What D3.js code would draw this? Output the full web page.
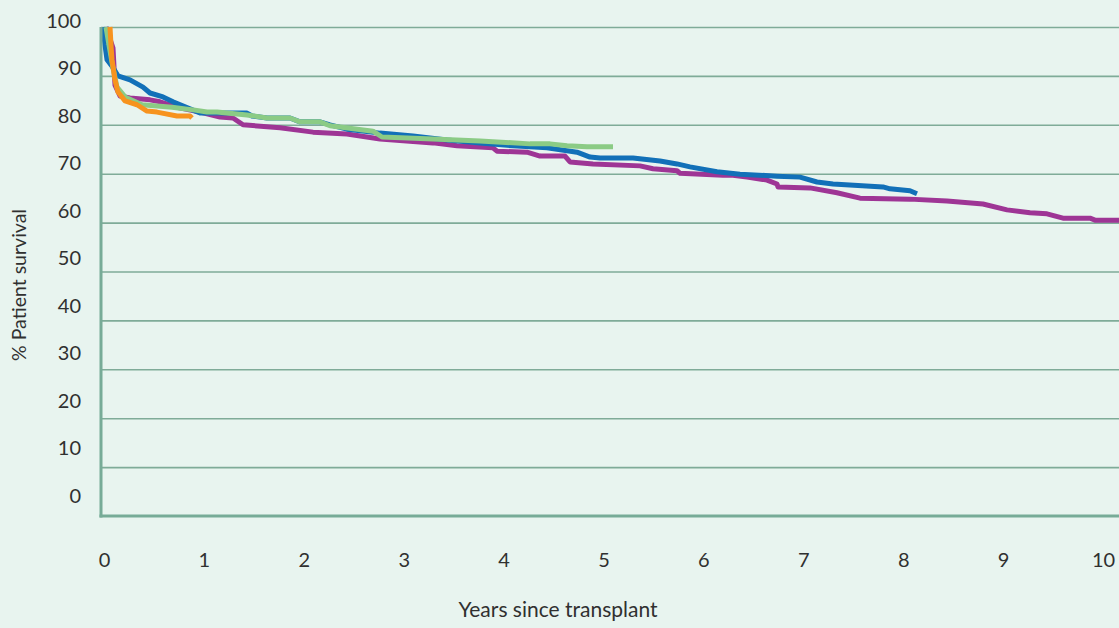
<!DOCTYPE html>
<html>
<head>
<meta charset="utf-8">
<script src="https://cdn.jsdelivr.net/npm/d3@7"></script>
<style>
  html, body { margin: 0; padding: 0; background: #e8f4ef; }
  svg { display: block; font-family: Lato, "Open Sans", sans-serif; }
</style>
</head>
<body>
<svg id="chart" width="1119" height="628"></svg>
<script>
// ---- data (years since transplant, % patient survival) ----
const yTicks = [0, 10, 20, 30, 40, 50, 60, 70, 80, 90, 100];
const xTicks = [0, 1, 2, 3, 4, 5, 6, 7, 8, 9, 10];

const purpleYears = [0.05,0.12,0.14,0.19,0.29,0.49,0.59,0.76,0.99,1.19,1.32,1.42,1.79,2.12,2.46,2.79,3.32,3.56,3.92,3.96,4.26,4.39,4.64,4.69,4.92,5.39,5.52,5.76,5.79,6.22,6.32,6.46,6.66,6.76,6.77,7.09,7.36,7.59,8.09,8.46,8.82,9.06,9.29,9.46,9.62,9.89,9.94,10.2];
const purpleSurv  = [100,95.7,88.1,85.9,85.5,85.1,84.7,83.6,82.6,81.6,81.4,80.0,79.4,78.5,78.1,77.1,76.3,75.7,75.3,74.6,74.4,73.6,73.6,72.4,72.0,71.6,71.0,70.6,70.1,69.7,69.7,69.3,68.7,67.9,67.3,67.1,66.1,65.0,64.8,64.4,63.8,62.6,62.0,61.8,60.9,60.9,60.5,60.5];

const blueYears = [0.02,0.04,0.06,0.11,0.17,0.29,0.42,0.49,0.62,0.72,0.92,0.99,1.46,1.51,1.66,1.89,1.99,2.19,2.29,2.46,2.79,3.12,3.46,3.79,4.12,4.46,4.76,4.89,4.99,5.32,5.59,5.76,5.89,6.16,6.39,6.76,6.99,7.16,7.32,7.82,7.89,8.09,8.16];
const blueSurv  = [100,96.3,93.3,92.0,90.0,89.2,87.7,86.5,85.7,84.7,83.0,82.4,82.4,81.8,81.4,81.4,80.6,80.6,80.0,79.1,78.3,77.7,76.9,76.3,75.7,75.3,74.4,73.4,73.2,73.2,72.6,72.0,71.4,70.4,69.9,69.5,69.3,68.3,67.9,67.3,66.9,66.5,65.9];

const greenYears = [0.05,0.08,0.12,0.16,0.24,0.41,0.71,0.94,1.06,1.16,1.46,1.66,1.89,1.99,2.19,2.29,2.72,2.81,3.32,3.79,4.29,4.49,4.66,4.86,5.12];
const greenSurv  = [100,96.3,91.6,87.7,85.7,84.1,83.6,83.0,82.6,82.6,82.0,81.4,81.4,80.6,80.6,79.8,78.7,77.5,77.1,76.7,76.1,76.1,75.7,75.5,75.5];

const orangeYears = [0.09,0.10,0.11,0.14,0.17,0.24,0.36,0.46,0.56,0.76,0.89,0.91];
const orangeSurv  = [100,96.3,93.3,89.2,86.7,84.9,84.1,82.8,82.6,81.8,81.8,81.4];

const series = [
  { years: purpleYears, surv: purpleSurv, color: "#9e3595" },
  { years: blueYears,   surv: blueSurv,   color: "#1270b8" },
  { years: greenYears,  surv: greenSurv,  color: "#8bcb85" },
  { years: orangeYears, surv: orangeSurv, color: "#f7931e" }
];

// ---- layout ----
const svg = d3.select("#chart");
const W = 1119, H = 628;
const mLeft = 101, mTop = 27, mBottom = 516;
const textColor = "#303030";

svg.append("rect").attr("width", W).attr("height", H).attr("fill", "#e8f4ef");

const x = d3.scaleLinear().domain([0, 10]).range([mLeft, mLeft + 1000]);
const y = d3.scaleLinear().domain([0, 100]).range([mBottom, mTop]);

// label scales (labels sit offset from the grid in the original)
const xLab = d3.scaleLinear().domain([0, 10]).range([104, 1103]);
const yLab = d3.scaleLinear().domain([0, 100]).range([495, 20]);

// gridlines
svg.append("g")
  .attr("transform", `translate(${mLeft},0)`)
  .call(d3.axisLeft(y).tickValues(yTicks.filter(d => d > 0)).tickSize(-(W - mLeft)).tickFormat(""))
  .call(g => g.select(".domain").remove())
  .call(g => g.selectAll("line").attr("stroke", "#7fab98").attr("stroke-width", 1.6));

// y tick labels
svg.append("g")
  .attr("transform", "translate(81,0)")
  .call(d3.axisLeft(yLab).tickValues(yTicks).tickSize(0).tickPadding(0))
  .call(g => g.select(".domain").remove())
  .call(g => g.selectAll("text")
    .attr("font-family", "Lato, 'Open Sans', sans-serif")
    .attr("font-size", 20).attr("fill", textColor).attr("dy", "0.36em"));

// x tick labels
svg.append("g")
  .attr("transform", "translate(0,560)")
  .call(d3.axisBottom(xLab).tickValues(xTicks).tickSize(0).tickPadding(0))
  .call(g => g.select(".domain").remove())
  .call(g => g.selectAll("text")
    .attr("font-family", "Lato, 'Open Sans', sans-serif")
    .attr("font-size", 20).attr("fill", textColor).attr("dy", "0.36em"));

// curves
const line = d3.line().x(d => x(d[0])).y(d => y(d[1])).curve(d3.curveLinear);
const plot = svg.append("g");
plot.append("clipPath").attr("id", "clip")
  .append("rect").attr("x", mLeft).attr("y", mTop - 5).attr("width", W - mLeft).attr("height", mBottom - mTop + 5);
series.forEach(s => {
  const pts = s.years.map((t, i) => [t, s.surv[i]]);
  plot.append("path")
    .datum(pts)
    .attr("d", line)
    .attr("fill", "none")
    .attr("stroke", s.color)
    .attr("stroke-width", 5)
    .attr("stroke-linejoin", "round")
    .attr("stroke-linecap", "butt")
    .attr("clip-path", "url(#clip)");
});

// axis lines
svg.append("line").attr("x1", mLeft).attr("x2", mLeft).attr("y1", mTop).attr("y2", mBottom + 1.5)
  .attr("stroke", "#77ab97").attr("stroke-width", 3);
svg.append("line").attr("x1", mLeft - 1.5).attr("x2", W).attr("y1", mBottom).attr("y2", mBottom)
  .attr("stroke", "#77ab97").attr("stroke-width", 3);

// axis titles
svg.append("text")
  .attr("x", 558).attr("y", 612)
  .attr("text-anchor", "middle").attr("dominant-baseline", "middle")
  .attr("font-size", 21).attr("fill", textColor)
  .text("Years since transplant");

svg.append("text")
  .attr("transform", "translate(21,285) rotate(-90)")
  .attr("text-anchor", "middle").attr("dominant-baseline", "middle")
  .attr("font-size", 19.5).attr("fill", textColor)
  .text("% Patient survival");
</script>
</body>
</html>
